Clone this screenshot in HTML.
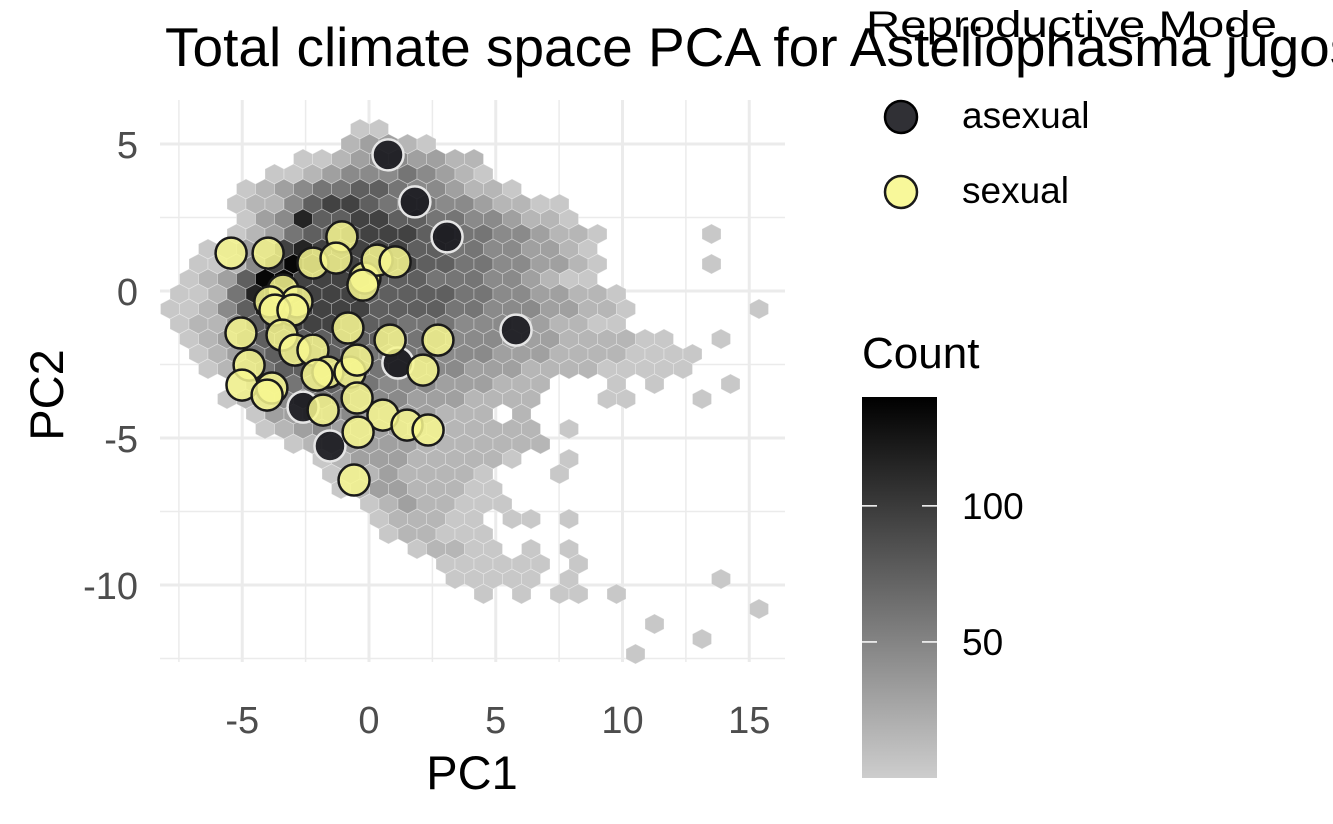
<!DOCTYPE html>
<html><head><meta charset="utf-8">
<style>
html,body{margin:0;padding:0;background:#fff;}
svg{display:block;font-family:"Liberation Sans",Arial,sans-serif;}
</style></head>
<body>
<svg id="chart" width="1333" height="824" viewBox="0 0 1333 824">
  <g id="grid"></g>
  <g id="hexes"></g>
  <g id="points"></g>
  <g id="axes"></g>
  <text x="165" y="66" font-size="55" fill="#000">Total climate space PCA for Asteliophasma jugosum</text>
  <g>
    <text x="866" y="37" font-size="37" textLength="411" lengthAdjust="spacingAndGlyphs" fill="#000">Reproductive Mode</text>
    <circle cx="901" cy="117" r="16" fill="#1a1a1f" fill-opacity="0.9" stroke="#000" stroke-width="2.5"/>
    <text x="962" y="128" font-size="37" fill="#000">asexual</text>
    <circle cx="901" cy="192" r="16" fill="#f7f78f" fill-opacity="0.9" stroke="#1a1a1a" stroke-width="2.5"/>
    <text x="962" y="203" font-size="37" fill="#000">sexual</text>
  </g>
  <g>
    <defs><linearGradient id="cg" x1="0" y1="0" x2="0" y2="1">
      <stop offset="0" stop-color="#000"/><stop offset="1" stop-color="#cdcdcd"/>
    </linearGradient></defs>
    <text x="862" y="368" font-size="44" fill="#000">Count</text>
    <rect x="862" y="397" width="75" height="381" fill="url(#cg)"/>
    <g id="cbticks"></g>
  </g>
  <text x="472" y="789" font-size="47" text-anchor="middle" fill="#000">PC1</text>
  <text transform="translate(63,395) rotate(-90)" font-size="47" text-anchor="middle" fill="#000">PC2</text>
</svg>
<script>
const xTicks = [-5, 0, 5, 10, 15];
const xMinor = [-7.5, -2.5, 2.5, 7.5, 12.5];
const yTicks = [5, 0, -5, -10];
const yMinor = [2.5, -2.5, -7.5, -12.5];
const countTicks = [50, 100];
const levelCounts = [0, 3, 15, 30, 45, 60, 75, 95, 115, 135];
const hexRows = [
"..........11",
".........23321",
".......1123443322",
".....112344454321",
"....123455665443221",
"...122467765554432211",
"....134866776655443221",
"...12356677776655443221.....1",
"..123478777776655443321",
".1124798777776655443321.....1",
".1236997777666555443211",
"112589877766666554433221",
"1124688777766665544433221......1",
"122467777666555444332211",
".12356666666555444333222211..1",
".123566666555544433322221111",
"..12456666555444333222211111",
"...13455655444333222...1.1...1",
"...12345554443332222...11...1",
"....1334443333222.2",
".....123433332222222.1",
"......12333332222222",
"........12333222221..1",
"........122322221...1",
".........123322211",
"..........12322111",
"...........122211.11.1",
"...........122111",
".............12211.1.1",
"..............111111.1",
"...............11111.1.......1",
"................1.1.11.1",
"...............................1",
".........................1",
"............................1",
"........................1"
];
const asexX = [0.75, 1.81, 3.08, 5.80, 1.14, -2.60, -1.54];
const asexY = [4.63, 3.03, 1.84, -1.33, -2.45, -3.95, -5.27];
const sexX = [-5.44,-3.98,-1.07,-2.21,-1.30,-0.16,0.32,1.03,-3.39,-2.84,-3.91,-3.71,-3.00,-5.05,-3.43,-2.92,-2.21,-0.83,0.83,2.72,-4.73,-5.01,-3.83,-4.02,-1.62,-2.05,-0.75,-0.47,2.13,-1.81,-0.47,0.55,1.50,2.33,-0.43,-0.59,-0.24];
const sexY = [1.29,1.29,1.84,0.95,1.12,0.44,1.05,0.99,0.03,-0.37,-0.37,-0.65,-0.65,-1.43,-1.50,-2.01,-2.01,-1.26,-1.67,-1.67,-2.52,-3.20,-3.30,-3.54,-2.76,-2.86,-2.76,-2.35,-2.69,-4.05,-3.64,-4.22,-4.56,-4.73,-4.80,-6.43,0.20];

const NS = "http://www.w3.org/2000/svg";
const sx = v => 369 + v * 25.35;
const sy = v => 291 - v * 29.4;
const binW = 19 / 25.35, binH = 15 / 29.4;
const hx0 = (170 - 369) / 25.35, hy0 = (291 - 129) / 29.4;
const panel = {l:160, r:785, t:100, b:662};
function mk(tag, attrs, parent){ const e=document.createElementNS(NS,tag); for(const k in attrs) e.setAttribute(k,attrs[k]); parent.appendChild(e); return e; }

const grid = document.getElementById('grid');
xMinor.forEach(v=>{ const l=mk('line',{x1:sx(v),x2:sx(v),y1:panel.t,y2:panel.b,stroke:'#ebebeb','stroke-width':1.5},grid);

 });
yMinor.forEach(v=>{ const l=mk('line',{x1:panel.l,x2:panel.r,y1:sy(v),y2:sy(v),stroke:'#ebebeb','stroke-width':1.5},grid);

 });
xTicks.forEach(v=>{ const l=mk('line',{x1:sx(v),x2:sx(v),y1:panel.t,y2:panel.b,stroke:'#ebebeb','stroke-width':3},grid);

 });
yTicks.forEach(v=>{ const l=mk('line',{x1:panel.l,x2:panel.r,y1:sy(v),y2:sy(v),stroke:'#ebebeb','stroke-width':3},grid);

 });

const axes = document.getElementById('axes');
xTicks.forEach(v=>{ const t=mk('text',{x:sx(v),y:733,'font-size':38,'text-anchor':'middle',fill:'#4d4d4d'},axes); t.textContent=String(v);

 });
yTicks.forEach(v=>{ const t=mk('text',{x:138,y:sy(v)+14,'font-size':38,'text-anchor':'end',fill:'#4d4d4d'},axes); t.textContent=String(v);

 });

const hexG = document.getElementById('hexes');
function grey(c){ const g=Math.round(204*(1-c/140)); return `rgb(${g},${g},${g})`; }
hexRows.forEach((row, r)=>{
  for(let c=0;c<row.length;c++){
    const ch=row[c]; if(ch==='.') continue;
    const count=levelCounts[+ch];
    const dx = hx0 + c*binW + (r%2 ? binW/2 : 0);
    const dy = hy0 - r*binH;
    const px=sx(dx), py=sy(dy);
    const pts=[[0,-10],[9.5,-5],[9.5,5],[0,10],[-9.5,5],[-9.5,-5]].map(p=>(px+p[0]).toFixed(1)+','+(py+p[1]).toFixed(1)).join(' ');
    const h=mk('polygon',{points:pts,fill:grey(count),stroke:'#ffffff','stroke-opacity':0.35,'stroke-width':0.8},hexG);
    
    
  }
});

const ptG = document.getElementById('points');
asexX.forEach((v,i)=>{ const c=mk('circle',{cx:sx(v),cy:sy(asexY[i]),r:15.5,fill:'#1a1a1f','fill-opacity':0.92,stroke:'#e6e6e6','stroke-width':2.5},ptG);

 });
sexX.forEach((v,i)=>{ const c=mk('circle',{cx:sx(v),cy:sy(sexY[i]),r:15.5,fill:'#f7f78f','fill-opacity':0.85,stroke:'#1a1a1a','stroke-width':2.5},ptG);

 });

const cb = document.getElementById('cbticks');
const cy = v => 778 - v/140*381;
countTicks.forEach(v=>{
  const y=cy(v);
  const a=mk('line',{x1:862,x2:877,y1:y,y2:y,stroke:'#fff','stroke-width':1.5},cb);
  
  
  const b=mk('line',{x1:922,x2:937,y1:y,y2:y,stroke:'#fff','stroke-width':1.5},cb);
  
  
  const t=mk('text',{x:962,y:y+13,'font-size':37,fill:'#000'},cb); t.textContent=String(v);
  
  
});
</script>
</body></html>
